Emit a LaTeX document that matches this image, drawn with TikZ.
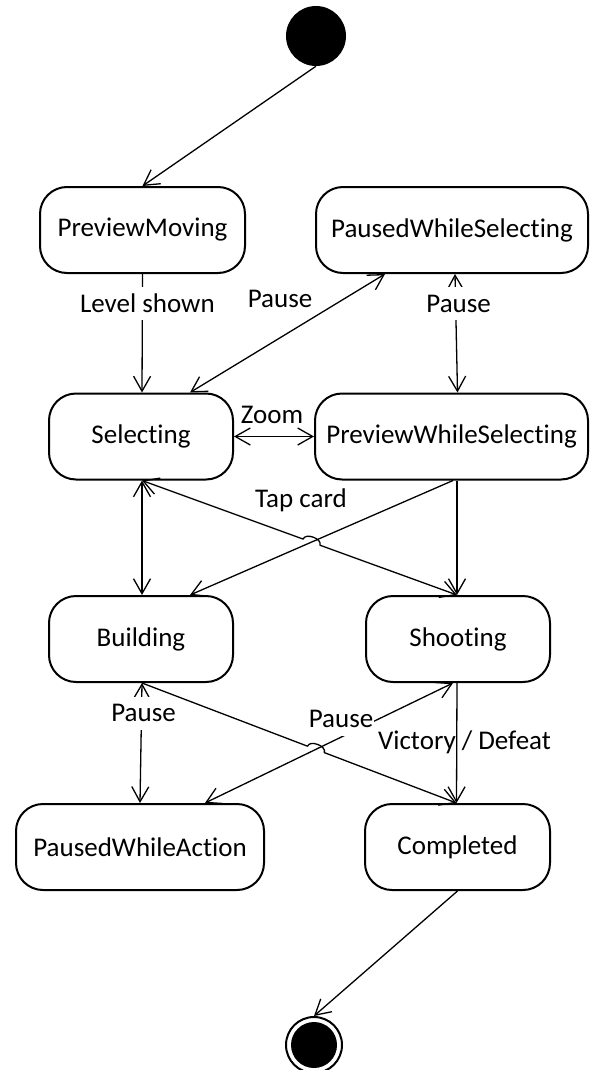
\documentclass[tikz,border=0pt]{standalone}
\usepackage{fontspec}
\setmainfont{Carlito}[Ligatures=NoCommon]
\usepackage{tikz}
\usetikzlibrary{
  arrows.meta,
  calc,
  positioning
}
\usepackage{xcolor}
\definecolor{lineclr}{RGB}{0,0,0}
\definecolor{bgclr}{RGB}{255,255,255}
\tikzset{
  % Holatlar
  state/.style    = {draw=lineclr, line width=2pt, rounded corners=27pt,
                     minimum height=86pt, inner sep=0pt,
                     font=\fontsize{27}{31}\selectfont},
  startpt/.style  = {circle, fill=lineclr, minimum size=60pt, inner sep=0pt},
  endpt/.style    = {circle, draw=lineclr, line width=2pt, minimum size=56pt, inner sep=0pt},
  enddot/.style   = {circle, fill=lineclr, minimum size=46pt, inner sep=0pt},
  % O'tishlar
  >={Straight Barb[length=15pt,width=17pt]},
  trans/.style    = {draw=lineclr, line width=1.3pt, line join=round, ->},
  both/.style     = {trans, <->},
  % Etiketlar
  lab/.style      = {font=\fontsize{27}{31}\selectfont, inner sep=1pt},
  labcut/.style   = {lab, fill=bgclr, minimum height=33pt},
}
\begin{document}
\begin{tikzpicture}[x={(1pt,0)}, y={(0,-1pt)}]
  \useasboundingbox (0,0) rectangle (589,1070);
  % Holatlar
  \node[startpt] (init) at (316,36) {};
  \node[state, minimum width=205pt] (pm)    at (142.5,230) {PreviewMoving};
  \node[state, minimum width=272pt] (pws)   at (452,230)   {PausedWhileSelecting};
  \node[state, minimum width=184pt] (sel)   at (141,436.5) {Selecting};
  \node[state, minimum width=273pt] (pwsel) at (451.5,436.5) {PreviewWhileSelecting};
  \node[state, minimum width=184pt] (bld)   at (141,639)   {Building};
  \node[state, minimum width=184pt] (sho)   at (458,639)   {Shooting};
  \node[state, minimum width=248pt] (pwa)   at (140,847)   {PausedWhileAction};
  \node[state, minimum width=185pt] (comp)  at (457.5,847) {Completed};
  \node[endpt]  (final)    at (314,1045) {};
  \node[enddot] (finaldot) at (final) {};
  % Uchlar
  \coordinate (selB)  at ([xshift=1pt]sel.south);
  \coordinate (shoT)  at ([xshift=-1pt]sho.north);
  \coordinate (bldT)  at ([xshift=1pt]bld.north);
  \coordinate (bldT2) at ([xshift=49pt]bld.north);
  \coordinate (pwselB) at ([xshift=1.5pt]pwsel.south);
  \coordinate (bldB)  at ([xshift=1pt]bld.south);
  \coordinate (compT) at ([xshift=-1pt]comp.north);
  \coordinate (shoB)  at ([xshift=-5pt]sho.south);
  \coordinate (pwaT2) at ([xshift=65pt]pwa.north);
  \coordinate (hopA) at (intersection of selB--shoT and pwselB--bldT2);
  \coordinate (hopB) at (intersection of bldB--compT and shoB--pwaT2);
  % O'tishlar
  \draw[trans] (init.south) -- (pm.north);
  \draw[trans] (pm.south) -- ([xshift=1pt]sel.north)
    node[labcut, pos=0.25, xshift=5pt] (lvl) {Level shown};
  \draw[both] ([xshift=49pt]sel.north) -- ([xshift=-67pt]pws.south);
  \draw[both] ([xshift=3pt]pws.south) -- ([xshift=6pt]pwsel.north)
    node[labcut, pos=0.25, xshift=3pt] (pauseB) {Pause};
  \draw[both] (sel.east) -- (pwsel.west);
  \draw[both] (selB) -- (bldT);
  \draw[trans] (pwselB) -- (bldT2);
  \draw[trans] ([xshift=5.5pt]pwsel.south) -- (shoT);
  \draw[both] (selB) -- ($(hopA)!9pt!(selB)$) to[bend left=90]
    ($(hopA)!9pt!(shoT)$) -- (shoT);
  \draw[both] (bldB) -- (pwa.north)
    node[labcut, pos=0.25, xshift=2pt] (pauseC) {Pause};
  \draw[trans] (bldB) -- ($(hopB)!9pt!(bldB)$) to[bend left=90]
    ($(hopB)!9pt!(compT)$) -- (compT);
  \draw[both] (shoB) -- (pwaT2);
  \draw[trans] (shoT |- sho.south) -- (compT);
  \draw[trans] (comp.south) -- (final.north);
  % Etiketlar
  \node[lab] (pauseA) at (280,299) {Pause};
  \node[lab] (zoomlbl) at (272,415) {Zoom};
  \node[lab] (tap) at (301,500) {Tap card};
  \node[labcut] (pauseD) at (341,719) {Pause};
  \node[lab] (win) at (464.5,742) {Victory / Defeat};
\end{tikzpicture}
\end{document}
